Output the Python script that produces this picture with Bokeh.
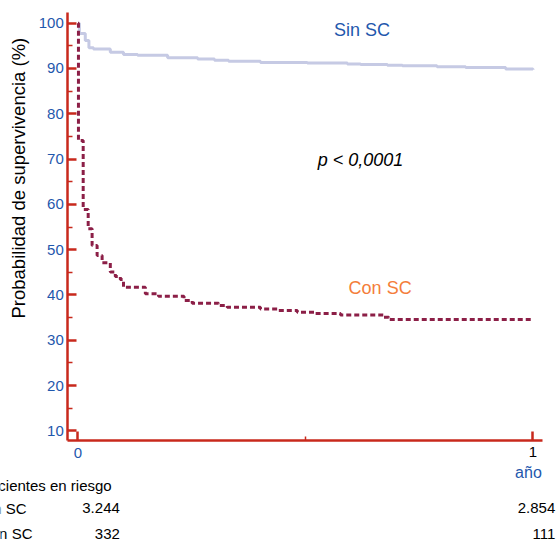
import math
from bokeh.plotting import figure
from bokeh.models import FixedTicker, Label, Range1d, LinearAxis
from bokeh.embed import file_html
from bokeh.resources import INLINE

# ---- data ----
t_sin = [0, 0.003, 0.016, 0.024, 0.034, 0.071, 0.10, 0.131, 0.197, 0.263, 0.30,
         0.331, 0.401, 0.504, 0.592, 0.621, 0.68, 0.713, 0.789, 0.852, 0.94, 1.0]
s_sin = [100, 97.7, 96.2, 94.6, 94.3, 93.6, 93.1, 92.9, 92.4, 92.1, 91.8,
         91.6, 91.3, 91.2, 91.0, 90.9, 90.7, 90.6, 90.4, 90.2, 89.9, 89.7]

t_con = [0, 0.001, 0.0114, 0.0224, 0.031, 0.042, 0.053, 0.071, 0.082, 0.093, 0.10,
         0.148, 0.177, 0.233, 0.251, 0.309, 0.328, 0.401, 0.441, 0.482, 0.522,
         0.577, 0.671, 0.683, 1.0]
s_con = [100, 74.1, 58.9, 54.6, 50.9, 48.7, 47.1, 45.1, 44.1, 43.4, 41.7,
         40.3, 39.7, 38.8, 38.2, 37.7, 37.3, 36.9, 36.6, 36.2, 35.9,
         35.6, 35.1, 34.6, 34.6]

y_ticks = [10, 20, 30, 40, 50, 60, 70, 80, 90, 100]
y_minor = [15, 25, 35, 45, 55, 65, 75, 85, 95]
x_ticks = [0, 1]
x_minor = [0.5]

groups = ["Sin SC", "Con SC"]
risk_start = ["3.244", "332"]
risk_end = ["2.854", "111"]

RED = "#c8291c"
BLUE = "#1f58ad"
FONT = "Liberation Sans"

X0, X1 = -0.0224, 1.0215     # extent of the x axis line
Y0, Y1 = 7.81, 102.29        # extent of the y axis line

p = figure(frame_width=557, frame_height=542,
           x_range=Range1d(-0.17033, 1.05385), y_range=Range1d(-14.636, 105.011),
           x_axis_type=None, y_axis_type=None,
           output_backend="svg", toolbar_location=None, min_border=0,
           styles={"position": "absolute", "left": "0px", "top": "0px"})
p.outline_line_color = None
p.background_fill_color = "white"
p.border_fill_color = "white"

# curves
p.step(t_sin, s_sin, mode="after", line_color="#c6cae4", line_width=3)
p.step(t_con, s_con, mode="after", line_color="#8c1f47", line_width=3,
       line_dash="5 3")

# y axis
ya = LinearAxis(fixed_location=X0, bounds=(Y0, Y1),
                ticker=FixedTicker(ticks=y_ticks, minor_ticks=y_minor))
ya.axis_line_color = RED
ya.axis_line_width = 2.5
ya.major_tick_line_color = RED
ya.major_tick_line_width = 2.5
ya.major_tick_in = 9
ya.major_tick_out = 0
ya.minor_tick_line_color = RED
ya.minor_tick_line_width = 1.5
ya.minor_tick_in = 5
ya.minor_tick_out = 0
ya.major_label_text_color = BLUE
ya.major_label_text_font = FONT
ya.major_label_text_font_size = "15px"
ya.major_label_standoff = 4
p.add_layout(ya, "left")

# x axis
xa = LinearAxis(fixed_location=Y0, bounds=(X0, X1),
                ticker=FixedTicker(ticks=x_ticks, minor_ticks=x_minor))
xa.axis_line_color = RED
xa.axis_line_width = 2.5
xa.major_tick_line_color = RED
xa.major_tick_line_width = 2.5
xa.major_tick_in = 9
xa.major_tick_out = 0
xa.minor_tick_line_color = RED
xa.minor_tick_line_width = 1.5
xa.minor_tick_in = 4
xa.minor_tick_out = 0
xa.major_label_text_color = BLUE
xa.major_label_text_font = FONT
xa.major_label_text_font_size = "15px"
xa.major_label_standoff = 3
xa.major_label_overrides = {1: " "}
p.add_layout(xa, "below")


def lab(text, x, y, size="15px", color="black", align="left", base="middle",
        style="normal", angle=0):
    p.add_layout(Label(x=x, y=y, text=text, text_font=FONT, text_font_size=size,
                       text_color=color, text_align=align, text_baseline=base,
                       text_font_style=style, angle=angle))


lab("1", x_ticks[1], 5.45, align="center")
lab("año", 0.99, 0.82, size="16px", color=BLUE, align="center")
lab("Probabilidad de supervivencia (%)", -0.1297, 65.8, size="18.5px",
    align="center", angle=math.pi / 2)
lab("Sin SC", 0.624, 98.5, size="18px", color=BLUE, align="center")
lab("Con SC", 0.664, 41.65, size="18px", color="#f47d3a", align="center")
lab("p < 0,0001", 0.621, 69.7, size="18px", align="center", style="italic")

lab("Pacientes en riesgo", -0.2155, -2.15)
for i, g in enumerate(groups):
    yv = [-7.07, -12.65][i]
    lab(g, -0.2155, yv)
    lab(risk_start[i], 0.0919, yv, align="right")
    lab(risk_end[i], 1.049, yv, align="right")

open("out.html", "w").write(file_html(p, INLINE))
